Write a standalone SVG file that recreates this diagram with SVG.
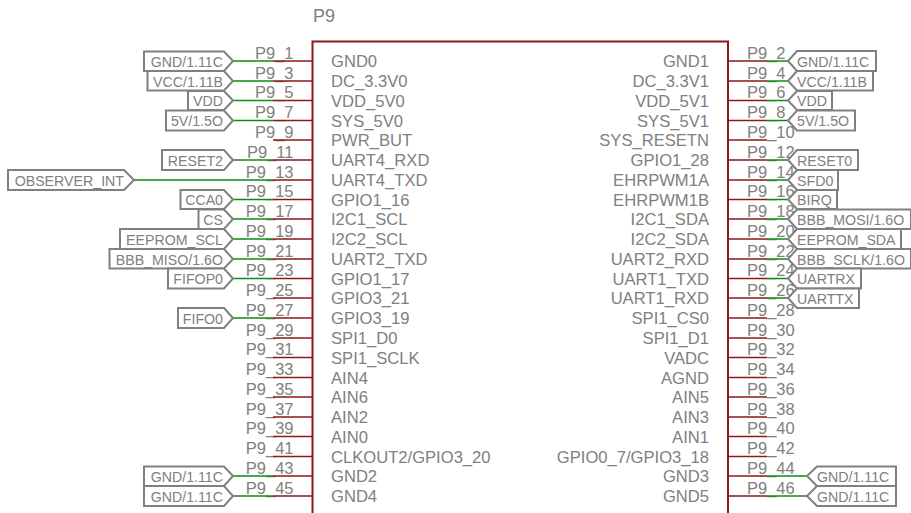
<svg xmlns="http://www.w3.org/2000/svg" width="911" height="513" viewBox="0 0 911 513">
<style>
text{font-family:"Liberation Sans",Arial,sans-serif;fill:#808080}
.n{font-size:16.6px}
.e{text-anchor:end}
.p{font-size:16.5px}
.f{font-size:14.2px;transform:translateY(.5px)}
.fl{fill:#fff;stroke:#808080;stroke-width:2}
.r{stroke:#8b1a1a;stroke-width:1.5;fill:none}
.g{stroke:#118a11;stroke-width:1.5;fill:none}
</style>
<rect width="911" height="513" fill="#fff"/>
<g id="chip">
<path d="M312.5 520V41.500H728V520" fill="none" stroke="#8b1a1a" stroke-width="2"/>
<text x="313" y="22" style="font-size:18px">P9</text>
<g class="n" transform="translate(0,1)">
<text x="331" y="66">GND0</text><text x="331" y="86">DC_3.3V0</text><text x="331" y="105.500">VDD_5V0</text><text x="331" y="125.500">SYS_5V0</text><text x="331" y="145">PWR_BUT</text><text x="331" y="165">UART4_RXD</text><text x="331" y="185">UART4_TXD</text><text x="331" y="204.500">GPIO1_16</text><text x="331" y="224">I2C1_SCL</text><text x="331" y="244">I2C2_SCL</text><text x="331" y="264">UART2_TXD</text><text x="331" y="283.500">GPIO1_17</text><text x="331" y="303">GPIO3_21</text><text x="331" y="323">GPIO3_19</text><text x="331" y="343">SPI1_D0</text><text x="331" y="362.500">SPI1_SCLK</text><text x="331" y="382.500">AIN4</text><text x="331" y="402">AIN6</text><text x="331" y="422">AIN2</text><text x="331" y="441.500">AIN0</text><text x="331" y="461.500">CLKOUT2/GPIO3_20</text><text x="331" y="481">GND2</text><text x="331" y="501">GND4</text>
</g>
<g class="n e" transform="translate(0,1)">
<text x="709" y="66">GND1</text><text x="709" y="86">DC_3.3V1</text><text x="709" y="105.500">VDD_5V1</text><text x="709" y="125.500">SYS_5V1</text><text x="709" y="145">SYS_RESETN</text><text x="709" y="165">GPIO1_28</text><text x="709" y="185">EHRPWM1A</text><text x="709" y="204.500">EHRPWM1B</text><text x="709" y="224">I2C1_SDA</text><text x="709" y="244">I2C2_SDA</text><text x="709" y="264">UART2_RXD</text><text x="709" y="283.500">UART1_TXD</text><text x="709" y="303">UART1_RXD</text><text x="709" y="323">SPI1_CS0</text><text x="709" y="343">SPI1_D1</text><text x="709" y="362.500">VADC</text><text x="709" y="382.500">AGND</text><text x="709" y="402">AIN5</text><text x="709" y="422">AIN3</text><text x="709" y="441.500">AIN1</text><text x="709" y="461.500">GPIO0_7/GPIO3_18</text><text x="709" y="481">GND3</text><text x="709" y="501">GND5</text>
</g>
<g class="p e" transform="translate(0,1.500)">
<text x="293.500" y="57">P9_1</text><text x="293.500" y="77">P9_3</text><text x="293.500" y="96.500">P9_5</text><text x="293.500" y="116.500">P9_7</text><text x="293.500" y="136">P9_9</text><text x="293.500" y="156">P9_11</text><text x="293.500" y="176">P9_13</text><text x="293.500" y="195.500">P9_15</text><text x="293.500" y="215">P9_17</text><text x="293.500" y="235">P9_19</text><text x="293.500" y="255">P9_21</text><text x="293.500" y="274.500">P9_23</text><text x="293.500" y="294">P9_25</text><text x="293.500" y="314">P9_27</text><text x="293.500" y="334">P9_29</text><text x="293.500" y="353.500">P9_31</text><text x="293.500" y="373.500">P9_33</text><text x="293.500" y="393">P9_35</text><text x="293.500" y="413">P9_37</text><text x="293.500" y="432.500">P9_39</text><text x="293.500" y="452.500">P9_41</text><text x="293.500" y="472">P9_43</text><text x="293.500" y="492">P9_45</text>
</g>
<g class="p" transform="translate(0,1.500)">
<text x="747" y="57">P9_2</text><text x="747" y="77">P9_4</text><text x="747" y="96.500">P9_6</text><text x="747" y="116.500">P9_8</text><text x="747" y="136">P9_10</text><text x="747" y="156">P9_12</text><text x="747" y="176">P9_14</text><text x="747" y="195.500">P9_16</text><text x="747" y="215">P9_18</text><text x="747" y="235">P9_20</text><text x="747" y="255">P9_22</text><text x="747" y="274.500">P9_24</text><text x="747" y="294">P9_26</text><text x="747" y="314">P9_28</text><text x="747" y="334">P9_30</text><text x="747" y="353.500">P9_32</text><text x="747" y="373.500">P9_34</text><text x="747" y="393">P9_36</text><text x="747" y="413">P9_38</text><text x="747" y="432.500">P9_40</text><text x="747" y="452.500">P9_42</text><text x="747" y="472">P9_44</text><text x="747" y="492">P9_46</text>
</g>
</g>
<g id="connectors">
<path class="r" d="M273 61H312M273 81H312M273 100.500H312M273 120.500H312M273 140H312M273 160H312M273 180H312M273 199.500H312M273 219H312M273 239H312M273 259H312M273 278.500H312M273 298H312M273 318H312M273 338H312M273 357.500H312M273 377.500H312M273 397H312M273 417H312M273 436.500H312M273 456.500H312M273 476H312M273 496H312"/>
<path class="r" d="M728 61H767M728 81H767M728 100.500H767M728 120.500H767M728 140H767M728 160H767M728 180H767M728 199.500H767M728 219H767M728 239H767M728 259H767M728 278.500H767M728 298H767M728 318H767M728 338H767M728 357.500H767M728 377.500H767M728 397H767M728 417H767M728 436.500H767M728 456.500H767M728 476H767M728 496H767"/>
<path class="g" d="M233 61H273M233 81H273M233 100.500H273M233 120.500H273M233 160H273M134 180H273M233 199.500H273M233 219H273M233 239H273M233 259H273M233 278.500H273M233 318H273M233 476H273M233 496H273"/>
<path class="g" d="M767 61H788M767 81H788M767 100.500H788M767 120.500H788M767 160H788M767 180H788M767 199.500H788M767 219H788M767 239H788M767 259H788M767 278.500H788M767 298H788M767 476H807M767 496H807"/>
</g>
<g id="flag-l1"><path class="fl" d="M144 51.500H224L233 61L224 71H144Z"/><text class="f e" x="223" y="66">GND/1.11C</text></g>
<g id="flag-l3"><path class="fl" d="M147.500 71H224L233 81L224 90.500H147.500Z"/><text class="f e" x="223" y="86">VCC/1.11B</text></g>
<g id="flag-l5"><path class="fl" d="M188 91H224L233 100.500L224 110H188Z"/><text class="f e" x="223" y="105.500">VDD</text></g>
<g id="flag-l7"><path class="fl" d="M166 110.500H224L233 120.500L224 130.500H166Z"/><text class="f e" x="223" y="125.500">5V/1.5O</text></g>
<g id="flag-l11"><path class="fl" d="M162 150H224L233 160L224 170H162Z"/><text class="f e" x="223" y="165">RESET2</text></g>
<g id="flag-l13"><path class="fl" d="M8 170H124L134 180L124 190H8Z"/><text class="f e" x="124" y="185">OBSERVER_INT</text></g>
<g id="flag-l15"><path class="fl" d="M180.500 190H224L233 199.500L224 209H180.500Z"/><text class="f e" x="223" y="204.500">CCA0</text></g>
<g id="flag-l17"><path class="fl" d="M198.500 209.500H224L233 219L224 229H198.500Z"/><text class="f e" x="223" y="224">CS</text></g>
<g id="flag-l19"><path class="fl" d="M120 229H224L233 239L224 249H120Z"/><text class="f e" x="223" y="244">EEPROM_SCL</text></g>
<g id="flag-l21"><path class="fl" d="M109.500 249H224L233 259L224 268.500H109.500Z"/><text class="f e" x="223" y="264">BBB_MISO/1.6O</text></g>
<g id="flag-l23"><path class="fl" d="M168 268.500H224L233 278.500L224 288.500H168Z"/><text class="f e" x="223" y="283.500">FIFOP0</text></g>
<g id="flag-l27"><path class="fl" d="M178 308H224L233 318L224 328H178Z"/><text class="f e" x="223" y="323">FIFO0</text></g>
<g id="flag-l43"><path class="fl" d="M144 466.500H224L233 476L224 486H144Z"/><text class="f e" x="223" y="481">GND/1.11C</text></g>
<g id="flag-l45"><path class="fl" d="M144 486H224L233 496L224 506H144Z"/><text class="f e" x="223" y="501">GND/1.11C</text></g>
<g id="flag-r2"><path class="fl" d="M876 51H797L788 61L797 71H876Z"/><text class="f" x="797" y="66">GND/1.11C</text></g>
<g id="flag-r4"><path class="fl" d="M873 71H797L788 81L797 90.500H873Z"/><text class="f" x="797" y="86">VCC/1.11B</text></g>
<g id="flag-r6"><path class="fl" d="M832 91H797L788 100.500L797 110H832Z"/><text class="f" x="797" y="105.500">VDD</text></g>
<g id="flag-r8"><path class="fl" d="M855 110.500H797L788 120.500L797 130.500H855Z"/><text class="f" x="797" y="125.500">5V/1.5O</text></g>
<g id="flag-r12"><path class="fl" d="M858 150H797L788 160L797 170H858Z"/><text class="f" x="797" y="165">RESET0</text></g>
<g id="flag-r14"><path class="fl" d="M838 170H797L788 180L797 190H838Z"/><text class="f" x="797" y="185">SFD0</text></g>
<g id="flag-r16"><path class="fl" d="M837 190H797L788 199.500L797 209H837Z"/><text class="f" x="797" y="204.500">BIRQ</text></g>
<g id="flag-r18"><path class="fl" d="M911 209.500H797L788 219L797 229H911Z"/><text class="f" x="797" y="224">BBB_MOSI/1.6O</text></g>
<g id="flag-r20"><path class="fl" d="M901 229H797L788 239L797 249H901Z"/><text class="f" x="797" y="244">EEPROM_SDA</text></g>
<g id="flag-r22"><path class="fl" d="M911 249H797L788 259L797 268.500H911Z"/><text class="f" x="797" y="264">BBB_SCLK/1.6O</text></g>
<g id="flag-r24"><path class="fl" d="M861 268.500H797L788 278.500L797 288.500H861Z"/><text class="f" x="797" y="283.500">UARTRX</text></g>
<g id="flag-r26"><path class="fl" d="M859 288.500H797L788 298L797 308H859Z"/><text class="f" x="797" y="303">UARTTX</text></g>
<g id="flag-r44"><path class="fl" d="M896 466.500H817L807 476L817 486H896Z"/><text class="f" x="817" y="481">GND/1.11C</text></g>
<g id="flag-r46"><path class="fl" d="M896 486H817L807 496L817 506H896Z"/><text class="f" x="817" y="501">GND/1.11C</text></g>
</svg>
